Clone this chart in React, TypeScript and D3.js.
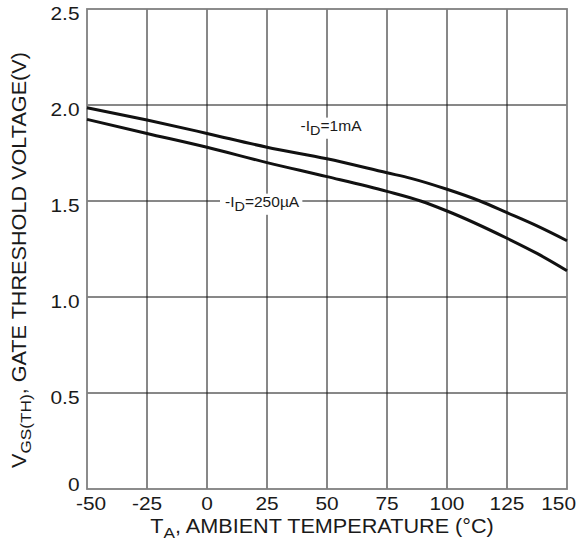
import React, { useRef, useEffect } from "react";
import * as d3 from "d3";

// temperature (°C) vs gate threshold voltage (V)
const tempTicks = [-50, -25, 0, 25, 50, 75, 100, 125, 150];
const voltTicks = [0, 0.5, 1.0, 1.5, 2.0, 2.5];
const voltTickLabels = ["0", "0.5", "1.0", "1.5", "2.0", "2.5"];

const temp1mA = [-50, -25, 0, 25, 50, 75, 85, 100, 113.75, 125, 137.5, 150];
const vth1mA = [1.986, 1.922, 1.852, 1.78, 1.72, 1.647, 1.618, 1.561, 1.5, 1.439, 1.37, 1.293];

const temp250uA = [-50, -25, 0, 25, 50, 75, 89, 100, 125, 137.5, 150];
const vth250uA = [1.925, 1.852, 1.78, 1.7, 1.627, 1.55, 1.5, 1.448, 1.306, 1.227, 1.137];

const annotations = [
  { main: "-I", sub: "D", rest: "=1mA", t: 39, v: 1.865 },
  { main: "-I", sub: "D", rest: "=250µA", t: 7.5, v: 1.469 },
];

const W = 579;
const H = 542;
const margin = { top: 9, right: 12, bottom: 53, left: 87 };
const innerW = W - margin.left - margin.right; // 480
const innerH = H - margin.top - margin.bottom; // 480
const font = "Liberation Sans, Arial, Helvetica, sans-serif";
const ink = "#1a1a1a";
const stretch = 1.11; // the original lettering is a little wider than Arial

const App = () => {
  const labelRefs = useRef<(SVGTextElement | null)[]>([]);
  const boxRefs = useRef<(SVGRectElement | null)[]>([]);

  const x = d3.scaleLinear().domain([-50, 150]).range([0, innerW]);
  const y = d3.scaleLinear().domain([0, 2.5]).range([innerH, 0]);

  const line = d3
    .line<[number, number]>()
    .x(d => x(d[0]))
    .y(d => y(d[1]))
    .curve(d3.curveMonotoneX);

  const series = [
    d3.zip(temp1mA, vth1mA) as [number, number][],
    d3.zip(temp250uA, vth250uA) as [number, number][],
  ];

  // white box behind each annotation, sized from the rendered text
  useEffect(() => {
    labelRefs.current.forEach((t, i) => {
      const r = boxRefs.current[i];
      if (!t || !r) return;
      const b = t.getBBox();
      const x0 = x(annotations[i].t);
      d3.select(r)
        .attr("x", x0 + (b.x - 5))
        .attr("y", b.y - 1)
        .attr("width", b.width * stretch + 8)
        .attr("height", b.height + 2);
    });
  }, []);

  return (
    <svg
      width={W}
      height={H}
      style={{ position: "absolute", left: 0, top: 0, background: "#fff" }}
      fontFamily={font}
    >
      <g transform={`translate(${margin.left},${margin.top})`}>
        {tempTicks.slice(1, -1).map(t => (
          <line key={"v" + t} x1={x(t)} x2={x(t)} y1={0} y2={innerH} stroke="#111" strokeWidth={1} />
        ))}
        {voltTicks.slice(1, -1).map(v => (
          <line key={"h" + v} x1={0} x2={innerW} y1={y(v)} y2={y(v)} stroke="#111" strokeWidth={1} />
        ))}

        {annotations.map((a, i) => (
          <rect key={"box" + i} ref={el => { boxRefs.current[i] = el; }} fill="#fff" />
        ))}

        <rect x={0} y={0} width={innerW} height={innerH} fill="none" stroke="#808080" strokeWidth={1.8} />

        {series.map((s, i) => (
          <path key={"s" + i} d={line(s) || ""} fill="none" stroke="#111" strokeWidth={3} />
        ))}

        {annotations.map((a, i) => (
          <g key={"ann" + i} transform={`translate(${x(a.t)},0) scale(${stretch},1)`}>
            <text
              ref={el => { labelRefs.current[i] = el; }}
              x={0}
              y={y(a.v)}
              fontSize={14}
              fill={ink}
            >
              {a.main}
              <tspan fontSize={13} dy={4}>{a.sub}</tspan>
              <tspan dy={-4}>{a.rest}</tspan>
            </text>
          </g>
        ))}

        {voltTicks.map((v, i) => (
          <text
            key={"yl" + v}
            transform={`translate(-7.5,${y(v) + (v === 0 ? 2 : 10.5)}) scale(${stretch},1)`}
            textAnchor="end"
            fontSize={18.8}
            fill={ink}
          >
            {voltTickLabels[i]}
          </text>
        ))}

        {tempTicks.map((t, i) => {
          const first = i === 0;
          const last = i === tempTicks.length - 1;
          const tx = first ? x(t) - 11 : last ? x(t) + 9 : x(t);
          return (
            <text
              key={"xl" + t}
              transform={`translate(${tx},${innerH + 21}) scale(${stretch},1)`}
              textAnchor={first ? "start" : last ? "end" : "middle"}
              fontSize={18.8}
              fill={ink}
            >
              {t}
            </text>
          );
        })}

        <text
          transform={`translate(${innerW / 2 - 5},${innerH + 44}) scale(${stretch},1)`}
          textAnchor="middle"
          fontSize={19.5}
          fill={ink}
        >
          T<tspan fontSize={15.5} dy={5}>A</tspan>
          <tspan dy={-5}>, AMBIENT TEMPERATURE (°C)</tspan>
        </text>

        <text
          transform={`translate(${25.5 - margin.left},${innerH / 2 + 11}) rotate(-90) scale(${stretch},1)`}
          textAnchor="middle"
          fontSize={19.5}
          fill={ink}
        >
          V<tspan fontSize={15.5} dy={5}>GS(TH)</tspan>
          <tspan dy={-5}>, GATE THRESHOLD VOLTAGE(V)</tspan>
        </text>
      </g>
    </svg>
  );
};

App.displayName = "App";
export default App;
